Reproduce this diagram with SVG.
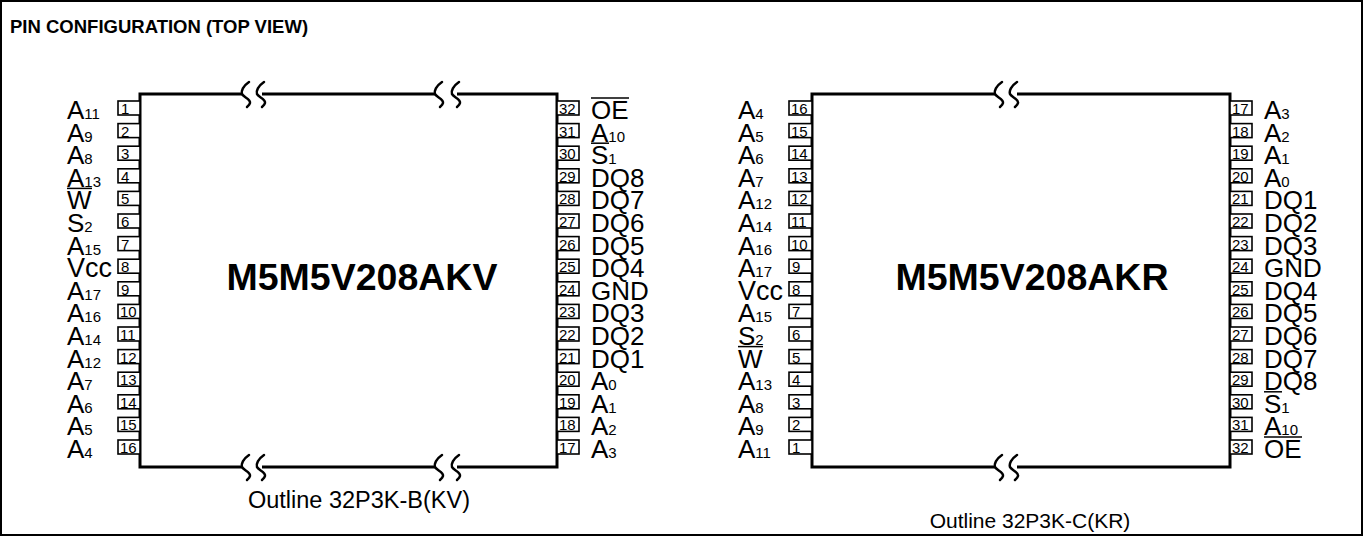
<svg xmlns="http://www.w3.org/2000/svg" width="1363" height="536" viewBox="0 0 1363 536">
<defs>
<style>
.frame{fill:none;stroke:#000;stroke-width:2}
.body{fill:none;stroke:#000;stroke-width:3}
.brk{fill:none;stroke:#000;stroke-width:2.5;stroke-linecap:round}
.pin{fill:#fff;stroke:#000;stroke-width:1.6}
.num{font-family:"Liberation Sans",Arial,sans-serif;font-size:15px;fill:#000}
.lbl{font-family:"Liberation Sans",Arial,sans-serif;font-size:26px;fill:#000}
.vcc{font-size:27px}
.sub{font-size:15px}
.ovl{stroke:#000;stroke-width:1.5}
.title{font-family:"Liberation Sans",Arial,sans-serif;font-weight:bold;font-size:18.5px}
.chip{font-family:"Liberation Sans",Arial,sans-serif;font-weight:bold;font-size:37.5px;text-anchor:middle}
.outline{font-family:"Liberation Sans",Arial,sans-serif;text-anchor:middle}
</style>
<path id="sq" class="brk" d="M7,-12 C1,-8 -1,-3 0,0 C1,3 9,5 8,9 C7.5,11 6,12 5,13"/>
</defs>
<rect class="frame" x="1" y="1" width="1361" height="534"/>
<text class="title" x="10" y="33">PIN CONFIGURATION (TOP VIEW)</text>

<g id="chip-kv">
<g id="kv-body">
<path class="body" d="M242,94 H140 V467 H242 M262,94 H435 M262,467 H435 M457,94 H557 V467 H457"/>
<use href="#sq" x="242" y="94"/><use href="#sq" x="257" y="94"/>
<use href="#sq" x="435" y="94"/><use href="#sq" x="452" y="94"/>
<use href="#sq" x="242" y="467"/><use href="#sq" x="257" y="467"/>
<use href="#sq" x="435" y="467"/><use href="#sq" x="452" y="467"/>
<text class="chip" x="362" y="290">M5M5V208AKV</text>
</g>
<g id="kv-left">
<g transform="translate(0,101)"><rect class="pin" x="118" y="0" width="22" height="14"/><text class="num" x="121" y="13">1</text><text class="lbl" x="67" y="18">A<tspan class="sub">11</tspan></text></g>
<g transform="translate(0,123.6)"><rect class="pin" x="118" y="0" width="22" height="14"/><text class="num" x="121" y="13">2</text><text class="lbl" x="67" y="18">A<tspan class="sub">9</tspan></text></g>
<g transform="translate(0,146.2)"><rect class="pin" x="118" y="0" width="22" height="14"/><text class="num" x="121" y="13">3</text><text class="lbl" x="67" y="18">A<tspan class="sub">8</tspan></text></g>
<g transform="translate(0,168.8)"><rect class="pin" x="118" y="0" width="22" height="14"/><text class="num" x="121" y="13">4</text><text class="lbl" x="67" y="18">A<tspan class="sub">13</tspan></text></g>
<g transform="translate(0,191.4)"><rect class="pin" x="118" y="0" width="22" height="14"/><text class="num" x="121" y="13">5</text><text class="lbl" x="67" y="18">W</text><line class="ovl" x1="67" y1="-3" x2="92" y2="-3"/></g>
<g transform="translate(0,214)"><rect class="pin" x="118" y="0" width="22" height="14"/><text class="num" x="121" y="13">6</text><text class="lbl" x="67" y="18">S<tspan class="sub">2</tspan></text></g>
<g transform="translate(0,236.6)"><rect class="pin" x="118" y="0" width="22" height="14"/><text class="num" x="121" y="13">7</text><text class="lbl" x="67" y="18">A<tspan class="sub">15</tspan></text></g>
<g transform="translate(0,259.2)"><rect class="pin" x="118" y="0" width="22" height="14"/><text class="num" x="121" y="13">8</text><text class="lbl vcc" x="67" y="18">Vcc</text></g>
<g transform="translate(0,281.8)"><rect class="pin" x="118" y="0" width="22" height="14"/><text class="num" x="121" y="13">9</text><text class="lbl" x="67" y="18">A<tspan class="sub">17</tspan></text></g>
<g transform="translate(0,304.4)"><rect class="pin" x="118" y="0" width="22" height="14"/><text class="num" x="120" y="13">10</text><text class="lbl" x="67" y="18">A<tspan class="sub">16</tspan></text></g>
<g transform="translate(0,327)"><rect class="pin" x="118" y="0" width="22" height="14"/><text class="num" x="120" y="13">11</text><text class="lbl" x="67" y="18">A<tspan class="sub">14</tspan></text></g>
<g transform="translate(0,349.6)"><rect class="pin" x="118" y="0" width="22" height="14"/><text class="num" x="120" y="13">12</text><text class="lbl" x="67" y="18">A<tspan class="sub">12</tspan></text></g>
<g transform="translate(0,372.2)"><rect class="pin" x="118" y="0" width="22" height="14"/><text class="num" x="120" y="13">13</text><text class="lbl" x="67" y="18">A<tspan class="sub">7</tspan></text></g>
<g transform="translate(0,394.8)"><rect class="pin" x="118" y="0" width="22" height="14"/><text class="num" x="120" y="13">14</text><text class="lbl" x="67" y="18">A<tspan class="sub">6</tspan></text></g>
<g transform="translate(0,417.4)"><rect class="pin" x="118" y="0" width="22" height="14"/><text class="num" x="120" y="13">15</text><text class="lbl" x="67" y="18">A<tspan class="sub">5</tspan></text></g>
<g transform="translate(0,440)"><rect class="pin" x="118" y="0" width="22" height="14"/><text class="num" x="120" y="13">16</text><text class="lbl" x="67" y="18">A<tspan class="sub">4</tspan></text></g>
</g>
<g id="kv-right">
<g transform="translate(0,101)"><rect class="pin" x="557" y="0" width="22" height="14"/><text class="num" x="559" y="13">32</text><text class="lbl" x="591" y="18">OE</text><line class="ovl" x1="591" y1="-3" x2="629" y2="-3"/></g>
<g transform="translate(0,123.6)"><rect class="pin" x="557" y="0" width="22" height="14"/><text class="num" x="559" y="13">31</text><text class="lbl" x="591" y="18">A<tspan class="sub">10</tspan></text></g>
<g transform="translate(0,146.2)"><rect class="pin" x="557" y="0" width="22" height="14"/><text class="num" x="559" y="13">30</text><text class="lbl" x="591" y="18">S<tspan class="sub">1</tspan></text><line class="ovl" x1="591" y1="-3" x2="609" y2="-3"/></g>
<g transform="translate(0,168.8)"><rect class="pin" x="557" y="0" width="22" height="14"/><text class="num" x="559" y="13">29</text><text class="lbl" x="591" y="18">DQ8</text></g>
<g transform="translate(0,191.4)"><rect class="pin" x="557" y="0" width="22" height="14"/><text class="num" x="559" y="13">28</text><text class="lbl" x="591" y="18">DQ7</text></g>
<g transform="translate(0,214)"><rect class="pin" x="557" y="0" width="22" height="14"/><text class="num" x="559" y="13">27</text><text class="lbl" x="591" y="18">DQ6</text></g>
<g transform="translate(0,236.6)"><rect class="pin" x="557" y="0" width="22" height="14"/><text class="num" x="559" y="13">26</text><text class="lbl" x="591" y="18">DQ5</text></g>
<g transform="translate(0,259.2)"><rect class="pin" x="557" y="0" width="22" height="14"/><text class="num" x="559" y="13">25</text><text class="lbl" x="591" y="18">DQ4</text></g>
<g transform="translate(0,281.8)"><rect class="pin" x="557" y="0" width="22" height="14"/><text class="num" x="559" y="13">24</text><text class="lbl" x="591" y="18">GND</text></g>
<g transform="translate(0,304.4)"><rect class="pin" x="557" y="0" width="22" height="14"/><text class="num" x="559" y="13">23</text><text class="lbl" x="591" y="18">DQ3</text></g>
<g transform="translate(0,327)"><rect class="pin" x="557" y="0" width="22" height="14"/><text class="num" x="559" y="13">22</text><text class="lbl" x="591" y="18">DQ2</text></g>
<g transform="translate(0,349.6)"><rect class="pin" x="557" y="0" width="22" height="14"/><text class="num" x="559" y="13">21</text><text class="lbl" x="591" y="18">DQ1</text></g>
<g transform="translate(0,372.2)"><rect class="pin" x="557" y="0" width="22" height="14"/><text class="num" x="559" y="13">20</text><text class="lbl" x="591" y="18">A<tspan class="sub">0</tspan></text></g>
<g transform="translate(0,394.8)"><rect class="pin" x="557" y="0" width="22" height="14"/><text class="num" x="559" y="13">19</text><text class="lbl" x="591" y="18">A<tspan class="sub">1</tspan></text></g>
<g transform="translate(0,417.4)"><rect class="pin" x="557" y="0" width="22" height="14"/><text class="num" x="559" y="13">18</text><text class="lbl" x="591" y="18">A<tspan class="sub">2</tspan></text></g>
<g transform="translate(0,440)"><rect class="pin" x="557" y="0" width="22" height="14"/><text class="num" x="559" y="13">17</text><text class="lbl" x="591" y="18">A<tspan class="sub">3</tspan></text></g>
</g>
<text class="outline" x="359" y="508" font-size="23.5">Outline 32P3K-B(KV)</text>
</g>

<g id="chip-kr">
<g id="kr-body">
<path class="body" d="M995,94 H812 V467 H995 M1017,94 H1230 V467 H1017"/>
<use href="#sq" x="995" y="94"/><use href="#sq" x="1010" y="94"/>
<use href="#sq" x="995" y="467"/><use href="#sq" x="1010" y="467"/>
<text class="chip" x="1032" y="290">M5M5V208AKR</text>
</g>
<g id="kr-left">
<g transform="translate(0,101)"><rect class="pin" x="789" y="0" width="23" height="14"/><text class="num" x="791" y="13">16</text><text class="lbl" x="738" y="18">A<tspan class="sub">4</tspan></text></g>
<g transform="translate(0,123.6)"><rect class="pin" x="789" y="0" width="23" height="14"/><text class="num" x="791" y="13">15</text><text class="lbl" x="738" y="18">A<tspan class="sub">5</tspan></text></g>
<g transform="translate(0,146.2)"><rect class="pin" x="789" y="0" width="23" height="14"/><text class="num" x="791" y="13">14</text><text class="lbl" x="738" y="18">A<tspan class="sub">6</tspan></text></g>
<g transform="translate(0,168.8)"><rect class="pin" x="789" y="0" width="23" height="14"/><text class="num" x="791" y="13">13</text><text class="lbl" x="738" y="18">A<tspan class="sub">7</tspan></text></g>
<g transform="translate(0,191.4)"><rect class="pin" x="789" y="0" width="23" height="14"/><text class="num" x="791" y="13">12</text><text class="lbl" x="738" y="18">A<tspan class="sub">12</tspan></text></g>
<g transform="translate(0,214)"><rect class="pin" x="789" y="0" width="23" height="14"/><text class="num" x="791" y="13">11</text><text class="lbl" x="738" y="18">A<tspan class="sub">14</tspan></text></g>
<g transform="translate(0,236.6)"><rect class="pin" x="789" y="0" width="23" height="14"/><text class="num" x="791" y="13">10</text><text class="lbl" x="738" y="18">A<tspan class="sub">16</tspan></text></g>
<g transform="translate(0,259.2)"><rect class="pin" x="789" y="0" width="23" height="14"/><text class="num" x="792" y="13">9</text><text class="lbl" x="738" y="18">A<tspan class="sub">17</tspan></text></g>
<g transform="translate(0,281.8)"><rect class="pin" x="789" y="0" width="23" height="14"/><text class="num" x="792" y="13">8</text><text class="lbl vcc" x="738" y="18">Vcc</text></g>
<g transform="translate(0,304.4)"><rect class="pin" x="789" y="0" width="23" height="14"/><text class="num" x="792" y="13">7</text><text class="lbl" x="738" y="18">A<tspan class="sub">15</tspan></text></g>
<g transform="translate(0,327)"><rect class="pin" x="789" y="0" width="23" height="14"/><text class="num" x="792" y="13">6</text><text class="lbl" x="738" y="18">S<tspan class="sub">2</tspan></text></g>
<g transform="translate(0,349.6)"><rect class="pin" x="789" y="0" width="23" height="14"/><text class="num" x="792" y="13">5</text><text class="lbl" x="738" y="18">W</text><line class="ovl" x1="738" y1="-3" x2="763" y2="-3"/></g>
<g transform="translate(0,372.2)"><rect class="pin" x="789" y="0" width="23" height="14"/><text class="num" x="792" y="13">4</text><text class="lbl" x="738" y="18">A<tspan class="sub">13</tspan></text></g>
<g transform="translate(0,394.8)"><rect class="pin" x="789" y="0" width="23" height="14"/><text class="num" x="792" y="13">3</text><text class="lbl" x="738" y="18">A<tspan class="sub">8</tspan></text></g>
<g transform="translate(0,417.4)"><rect class="pin" x="789" y="0" width="23" height="14"/><text class="num" x="792" y="13">2</text><text class="lbl" x="738" y="18">A<tspan class="sub">9</tspan></text></g>
<g transform="translate(0,440)"><rect class="pin" x="789" y="0" width="23" height="14"/><text class="num" x="792" y="13">1</text><text class="lbl" x="738" y="18">A<tspan class="sub">11</tspan></text></g>
</g>
<g id="kr-right">
<g transform="translate(0,101)"><rect class="pin" x="1230" y="0" width="22" height="14"/><text class="num" x="1232" y="13">17</text><text class="lbl" x="1264" y="18">A<tspan class="sub">3</tspan></text></g>
<g transform="translate(0,123.6)"><rect class="pin" x="1230" y="0" width="22" height="14"/><text class="num" x="1232" y="13">18</text><text class="lbl" x="1264" y="18">A<tspan class="sub">2</tspan></text></g>
<g transform="translate(0,146.2)"><rect class="pin" x="1230" y="0" width="22" height="14"/><text class="num" x="1232" y="13">19</text><text class="lbl" x="1264" y="18">A<tspan class="sub">1</tspan></text></g>
<g transform="translate(0,168.8)"><rect class="pin" x="1230" y="0" width="22" height="14"/><text class="num" x="1232" y="13">20</text><text class="lbl" x="1264" y="18">A<tspan class="sub">0</tspan></text></g>
<g transform="translate(0,191.4)"><rect class="pin" x="1230" y="0" width="22" height="14"/><text class="num" x="1232" y="13">21</text><text class="lbl" x="1264" y="18">DQ1</text></g>
<g transform="translate(0,214)"><rect class="pin" x="1230" y="0" width="22" height="14"/><text class="num" x="1232" y="13">22</text><text class="lbl" x="1264" y="18">DQ2</text></g>
<g transform="translate(0,236.6)"><rect class="pin" x="1230" y="0" width="22" height="14"/><text class="num" x="1232" y="13">23</text><text class="lbl" x="1264" y="18">DQ3</text></g>
<g transform="translate(0,259.2)"><rect class="pin" x="1230" y="0" width="22" height="14"/><text class="num" x="1232" y="13">24</text><text class="lbl" x="1264" y="18">GND</text></g>
<g transform="translate(0,281.8)"><rect class="pin" x="1230" y="0" width="22" height="14"/><text class="num" x="1232" y="13">25</text><text class="lbl" x="1264" y="18">DQ4</text></g>
<g transform="translate(0,304.4)"><rect class="pin" x="1230" y="0" width="22" height="14"/><text class="num" x="1232" y="13">26</text><text class="lbl" x="1264" y="18">DQ5</text></g>
<g transform="translate(0,327)"><rect class="pin" x="1230" y="0" width="22" height="14"/><text class="num" x="1232" y="13">27</text><text class="lbl" x="1264" y="18">DQ6</text></g>
<g transform="translate(0,349.6)"><rect class="pin" x="1230" y="0" width="22" height="14"/><text class="num" x="1232" y="13">28</text><text class="lbl" x="1264" y="18">DQ7</text></g>
<g transform="translate(0,372.2)"><rect class="pin" x="1230" y="0" width="22" height="14"/><text class="num" x="1232" y="13">29</text><text class="lbl" x="1264" y="18">DQ8</text></g>
<g transform="translate(0,394.8)"><rect class="pin" x="1230" y="0" width="22" height="14"/><text class="num" x="1232" y="13">30</text><text class="lbl" x="1264" y="18">S<tspan class="sub">1</tspan></text><line class="ovl" x1="1264" y1="-3" x2="1282" y2="-3"/></g>
<g transform="translate(0,417.4)"><rect class="pin" x="1230" y="0" width="22" height="14"/><text class="num" x="1232" y="13">31</text><text class="lbl" x="1264" y="18">A<tspan class="sub">10</tspan></text></g>
<g transform="translate(0,440)"><rect class="pin" x="1230" y="0" width="22" height="14"/><text class="num" x="1232" y="13">32</text><text class="lbl" x="1264" y="18">OE</text><line class="ovl" x1="1264" y1="-3" x2="1302" y2="-3"/></g>
</g>
<text class="outline" x="1030" y="528" font-size="21">Outline 32P3K-C(KR)</text>
</g>
</svg>
